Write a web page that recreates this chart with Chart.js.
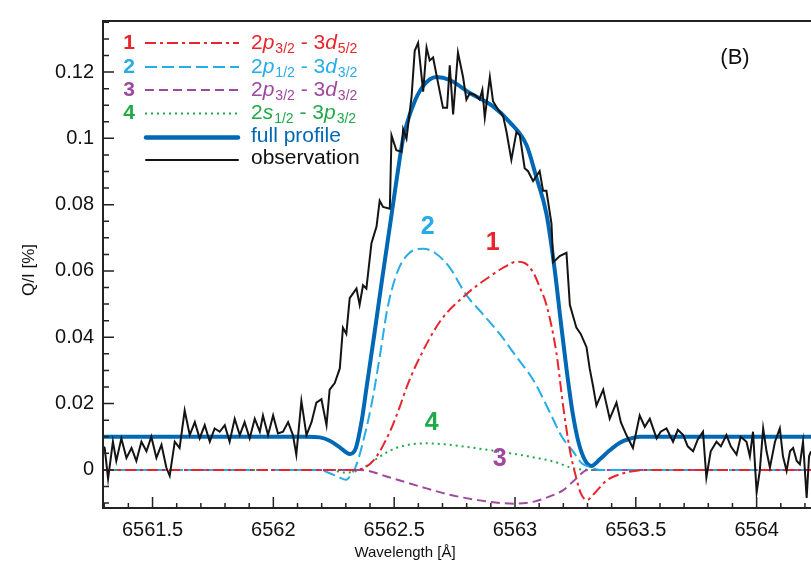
<!DOCTYPE html>
<html>
<head>
<meta charset="utf-8">
<script src="https://cdn.jsdelivr.net/npm/chart.js@4.4.0/dist/chart.umd.min.js"></script>
<style>
  html, body { margin: 0; padding: 0; background: #fff; }
</style>
</head>
<body>
<canvas id="mycanvas" width="811" height="569"></canvas>
<script>
// axis ranges (wavelength in Angstrom, Q/I in %)
var xMin = 6561.295, xMax = 6564.225;
var yMin = -0.0115, yMax = 0.1354;
var xTickLabels = [6561.5, 6562, 6562.5, 6563, 6563.5, 6564];
var yTickLabels = [0, 0.02, 0.04, 0.06, 0.08, 0.1, 0.12];

// observation
var obsX = [6561.295, 6561.302, 6561.316, 6561.336, 6561.350, 6561.371, 6561.392, 6561.413, 6561.433, 6561.454,
            6561.475, 6561.495, 6561.516, 6561.537, 6561.557, 6561.571, 6561.592, 6561.612, 6561.633, 6561.654,
            6561.675, 6561.695, 6561.716, 6561.737, 6561.757, 6561.778, 6561.799, 6561.819, 6561.840, 6561.861,
            6561.881, 6561.902, 6561.923, 6561.944, 6561.957, 6561.978, 6561.999, 6562.019, 6562.040, 6562.061,
            6562.081, 6562.095, 6562.116, 6562.137, 6562.158, 6562.178, 6562.199, 6562.220, 6562.233, 6562.254,
            6562.275, 6562.288, 6562.302, 6562.316, 6562.344, 6562.357, 6562.371, 6562.385, 6562.406, 6562.427,
            6562.440, 6562.454, 6562.482, 6562.489, 6562.509, 6562.530, 6562.537, 6562.551, 6562.572, 6562.585,
            6562.599, 6562.620, 6562.634, 6562.647, 6562.661, 6562.682, 6562.702, 6562.719, 6562.730, 6562.744,
            6562.764, 6562.785, 6562.799, 6562.813, 6562.834, 6562.854, 6562.865, 6562.875, 6562.896, 6562.909,
            6562.930, 6562.951, 6562.965, 6562.985, 6563.006, 6563.020, 6563.040, 6563.054, 6563.075, 6563.102,
            6563.116, 6563.130, 6563.151, 6563.158, 6563.185, 6563.213, 6563.227, 6563.254, 6563.272, 6563.296,
            6563.309, 6563.323, 6563.337, 6563.351, 6563.365, 6563.392, 6563.420, 6563.438, 6563.461, 6563.488,
            6563.516, 6563.537, 6563.558, 6563.586, 6563.603, 6563.627, 6563.654, 6563.674, 6563.696, 6563.715,
            6563.737, 6563.756, 6563.778, 6563.792, 6563.810, 6563.834, 6563.852, 6563.875, 6563.893, 6563.917,
            6563.934, 6563.958, 6563.972, 6563.985, 6564.000, 6564.013, 6564.027, 6564.041, 6564.055, 6564.076,
            6564.096, 6564.109, 6564.124, 6564.138, 6564.151, 6564.166, 6564.179, 6564.192, 6564.207, 6564.217,
            6564.225];
var obsY = [0.0071, 0.0066, -0.0027, 0.0085, 0.0027, 0.0095, 0.0036, 0.0066, 0.0027, 0.0085,
            0.0056, 0.0100, 0.0036, 0.0076, 0.0007, -0.0018, 0.0085, 0.0066, 0.0179, 0.0105,
            0.0144, 0.0095, 0.0135, 0.0085, 0.0125, 0.0115, 0.0135, 0.0085, 0.0154, 0.0105,
            0.0144, 0.0095, 0.0154, 0.0115, 0.0164, 0.0105, 0.0164, 0.0110, 0.0115, 0.0144,
            0.0105, 0.0046, 0.0208, 0.0105, 0.0144, 0.0203, 0.0213, 0.0135, 0.0242, 0.0262,
            0.0306, 0.0429, 0.0410, 0.0518, 0.0547, 0.0498, 0.0557, 0.0547, 0.0684, 0.0734,
            0.0812, 0.0793, 0.0788, 0.1009, 0.0964, 0.0960, 0.1028, 0.0999, 0.1126, 0.1264,
            0.1288, 0.1141, 0.1274, 0.1235, 0.1244, 0.1166, 0.1092, 0.1092, 0.1220, 0.1072,
            0.1259, 0.1185, 0.1117, 0.1136, 0.1131, 0.1117, 0.1146, 0.1063, 0.1185, 0.1112,
            0.1087, 0.1067, 0.1019, 0.0935, 0.1019, 0.1009, 0.0910, 0.0901, 0.0871, 0.0901,
            0.0842, 0.0842, 0.0743, 0.0626, 0.0645, 0.0655, 0.0498, 0.0429, 0.0410, 0.0370,
            0.0306, 0.0253, 0.0194, 0.0218, 0.0242, 0.0154, 0.0203, 0.0144, 0.0105, 0.0066,
            0.0164, 0.0130, 0.0154, 0.0095, 0.0115, 0.0125, 0.0085, 0.0121, 0.0105, 0.0071,
            0.0056, 0.0091, 0.0115, -0.0023, 0.0056, 0.0085, 0.0071, 0.0105, 0.0071, 0.0046,
            0.0100, 0.0085, 0.0041, 0.0115, -0.0068, -0.0003, 0.0125, 0.0056, 0.0007, 0.0085,
            0.0125, 0.0041, -0.0003, 0.0056, 0.0066, 0.0027, 0.0017, 0.0085, -0.0085, 0.0041,
            0.0056];

// full profile
var fullX = [6561.295, 6562.137, 6562.192, 6562.233, 6562.275, 6562.316, 6562.341, 6562.366, 6562.386, 6562.420,
             6562.449, 6562.482, 6562.507, 6562.537, 6562.577, 6562.618, 6562.675, 6562.730, 6562.813, 6562.908,
             6562.978, 6563.048, 6563.089, 6563.130, 6563.165, 6563.189, 6563.214, 6563.239, 6563.264, 6563.289,
             6563.316, 6563.351, 6563.392, 6563.434, 6563.475, 6563.516, 6564.225];
var fullY = [0.0100, 0.0100, 0.0098, 0.0088, 0.0068, 0.0048, 0.0065, 0.0150, 0.0250, 0.0420,
             0.0570, 0.0734, 0.0860, 0.0999, 0.1097, 0.1156, 0.1185, 0.1176, 0.1137, 0.1097,
             0.1049, 0.0979, 0.0881, 0.0773, 0.0600, 0.0450, 0.0300, 0.0170, 0.0080, 0.0030,
             0.0012, 0.0032, 0.0059, 0.0082, 0.0094, 0.0100, 0.0100];

// 1: 2p3/2 - 3d5/2
var c1X = [6561.295, 6562.337, 6562.413, 6562.482, 6562.523, 6562.552, 6562.593, 6562.691, 6562.799, 6562.895,
           6562.957, 6563.006, 6563.040, 6563.075, 6563.103, 6563.130, 6563.172, 6563.199, 6563.227, 6563.252,
           6563.272, 6563.297, 6563.330, 6563.379, 6563.461, 6563.544, 6564.225];
var c1Y = [0, 0, 0.0027, 0.0115, 0.0190, 0.0250, 0.0320, 0.0449, 0.0530, 0.0583,
           0.0612, 0.0628, 0.0624, 0.0596, 0.0550, 0.0498, 0.0350, 0.0194, 0.0060, -0.0020,
           -0.0070, -0.0091, -0.0070, -0.0032, -0.0008, 0, 0];

// 2: 2p1/2 - 3d3/2
var c2X = [6561.295, 6562.192, 6562.233, 6562.266, 6562.302, 6562.320, 6562.341, 6562.366, 6562.407, 6562.440,
           6562.473, 6562.515, 6562.564, 6562.620, 6562.668, 6562.730, 6562.799, 6562.867, 6562.937, 6563.007,
           6563.075, 6563.144, 6563.194, 6563.240, 6563.276, 6563.310, 6563.351, 6564.225];
var c2Y = [0, 0, -0.0010, -0.0020, -0.0030, -0.0015, 0.0010, 0.0070, 0.0200, 0.0340,
           0.0490, 0.0600, 0.0655, 0.0667, 0.0655, 0.0610, 0.0527, 0.0470, 0.0410, 0.0340,
           0.0272, 0.0174, 0.0100, 0.0056, 0.0020, 0.0009, 0, 0];

// 3: 2p3/2 - 3d3/2
var c3X = [6561.295, 6562.358, 6562.482, 6562.606, 6562.730, 6562.854, 6563.000, 6563.083, 6563.144, 6563.198,
           6563.248, 6563.301, 6564.225];
var c3Y = [0, 0, -0.0023, -0.0050, -0.0075, -0.0092, -0.0102, -0.0095, -0.0080, -0.0062,
           -0.0030, 0, 0];

// 4: 2s1/2 - 3p3/2
var c4X = [6561.295, 6562.233, 6562.295, 6562.358, 6562.420, 6562.482, 6562.546, 6562.634, 6562.709, 6562.813,
           6562.937, 6563.061, 6563.165, 6563.239, 6563.310, 6564.225];
var c4Y = [0, 0, -0.0008, 0, 0.0030, 0.0058, 0.0074, 0.0080, 0.0077, 0.0068,
           0.0055, 0.0040, 0.0024, 0.0005, 0, 0];

// legend text pieces: [text, style]  n = normal, i = italic, s = subscript
var seriesNames = [
    [['2', 'n'], ['p', 'i'], ['3/2', 's'], [' - 3', 'n'], ['d', 'i'], ['5/2', 's']],
    [['2', 'n'], ['p', 'i'], ['1/2', 's'], [' - 3', 'n'], ['d', 'i'], ['3/2', 's']],
    [['2', 'n'], ['p', 'i'], ['3/2', 's'], [' - 3', 'n'], ['d', 'i'], ['3/2', 's']],
    [['2', 'n'], ['s', 'i'], ['1/2', 's'], [' - 3', 'n'], ['p', 'i'], ['3/2', 's']]
];
var seriesNums = ['1', '2', '3', '4'];
// curve labels placed in data space
var curveLabelX = [6562.908, 6562.639, 6562.937, 6562.655];
var curveLabelY = [0.0684, 0.0731, 0.0032, 0.0141];

var red = 'rgb(232,36,44)', cyan = 'rgb(38,172,230)', purple = 'rgb(158,72,160)',
    green = 'rgb(32,170,72)', blue = 'rgb(0,104,180)', black = '#141414';
var colors = [red, cyan, purple, green];
var dashes = [[11, 4, 3, 4], [12, 5], [9, 5], [2, 4]];
var FONT = "'Liberation Sans', Arial, sans-serif";

function pts(xs, ys) {
    var out = [];
    for (var i = 0; i < xs.length; i++) out.push({x: xs[i], y: ys[i]});
    return out;
}

var compX = [c1X, c2X, c3X, c4X], compY = [c1Y, c2Y, c3Y, c4Y];
var datasets = [];
datasets.push({label: 'observation', data: pts(obsX, obsY), borderColor: black, borderWidth: 2,
    pointRadius: 0, tension: 0, order: 1});
for (var k = 0; k < 4; k++) {
    datasets.push({label: seriesNums[k], data: pts(compX[k], compY[k]), borderColor: colors[k],
        borderWidth: 2, borderDash: dashes[k], pointRadius: 0, cubicInterpolationMode: 'monotone', order: 5});
}
datasets.push({label: 'full profile', data: pts(fullX, fullY), borderColor: blue, borderWidth: 4,
    pointRadius: 0, cubicInterpolationMode: 'monotone', order: 10});

function drawLabel(ctx, x, y, parts) {
    for (var i = 0; i < parts.length; i++) {
        var t = parts[i][0], s = parts[i][1];
        if (s == 's') {
            ctx.font = '14px ' + FONT;
            ctx.fillText(t, x, y + 6);
        } else {
            ctx.font = (s == 'i' ? 'italic ' : '') + '21px ' + FONT;
            ctx.fillText(t, x, y);
        }
        x += ctx.measureText(t).width + (s == 'i' ? 1 : 0);
    }
}

var framePlugin = {
    id: 'frame',
    afterDraw: function (chart) {
        var ctx = chart.ctx, a = chart.chartArea;
        var xs = chart.scales.x, ys = chart.scales.y;
        ctx.save();
        ctx.strokeStyle = '#222';
        ctx.lineWidth = 2;
        ctx.beginPath();
        ctx.moveTo(a.right + 2, a.top); ctx.lineTo(a.left, a.top);
        ctx.lineTo(a.left, a.bottom); ctx.lineTo(a.right + 2, a.bottom);
        ctx.stroke();
        ctx.lineWidth = 1.5;
        ctx.beginPath();
        // x ticks, minor every 0.1
        for (var k = 65613; k <= 65642; k++) {
            var px = xs.getPixelForValue(k / 10);
            var len = (k % 5 == 0) ? 11 : 5;
            ctx.moveTo(px, a.bottom); ctx.lineTo(px, a.bottom - len);
        }
        // y ticks, minor every 0.005
        for (var j = -2; j <= 27; j++) {
            var py = ys.getPixelForValue(j * 0.005);
            var l = (j % 4 == 0 && j >= 0) ? 11 : 6;
            ctx.moveTo(a.left, py); ctx.lineTo(a.left + l, py);
        }
        ctx.stroke();

        // axis titles
        ctx.fillStyle = '#111';
        ctx.textAlign = 'center';
        ctx.textBaseline = 'middle';
        ctx.font = '15px ' + FONT;
        ctx.fillText('Wavelength [\u00C5]', 405, 553);
        ctx.save();
        ctx.translate(29, 270);
        ctx.rotate(-Math.PI / 2);
        ctx.font = '17px ' + FONT;
        ctx.fillText('Q/I [%]', 0, 0);
        ctx.restore();

        // panel tag
        ctx.font = '22px ' + FONT;
        ctx.fillText('(B)', 735, 58);

        // numbers on the curves
        ctx.font = 'bold 25px ' + FONT;
        for (var c = 0; c < 4; c++) {
            ctx.fillStyle = colors[c];
            ctx.fillText(seriesNums[c], xs.getPixelForValue(curveLabelX[c]), ys.getPixelForValue(curveLabelY[c]));
        }

        // legend
        var rows = [43, 67, 90, 113.5];
        ctx.textBaseline = 'middle';
        for (var r = 0; r < 4; r++) {
            ctx.fillStyle = colors[r];
            ctx.textAlign = 'center';
            ctx.font = 'bold 21px ' + FONT;
            ctx.fillText(seriesNums[r], 129, rows[r]);
            ctx.strokeStyle = colors[r];
            ctx.lineWidth = 2;
            ctx.setLineDash(dashes[r]);
            ctx.beginPath(); ctx.moveTo(145, rows[r]); ctx.lineTo(239, rows[r]); ctx.stroke();
            ctx.setLineDash([]);
            ctx.textAlign = 'left';
            drawLabel(ctx, 251, rows[r], seriesNames[r]);
        }
        ctx.lineWidth = 4.5;
        ctx.strokeStyle = blue;
        ctx.lineCap = 'round';
        ctx.beginPath(); ctx.moveTo(146, 137.5); ctx.lineTo(238, 137.5); ctx.stroke();
        ctx.lineWidth = 2;
        ctx.strokeStyle = black;
        ctx.beginPath(); ctx.moveTo(146, 160); ctx.lineTo(238, 160); ctx.stroke();
        ctx.font = '21px ' + FONT;
        ctx.fillStyle = blue;
        ctx.fillText('full profile', 251, 136);
        ctx.fillStyle = '#111';
        ctx.fillText('observation', 251, 158);
        ctx.restore();
    }
};

var ctx = document.getElementById('mycanvas');
var chart = new Chart(ctx, {
    type: 'line',
    data: { datasets: datasets },
    options: {
        responsive: false,
        animation: false,
        layout: { padding: { top: 9, right: 0, left: 0, bottom: 0 } },
        plugins: { legend: { display: false }, tooltip: { enabled: false } },
        scales: {
            x: {
                type: 'linear', min: xMin, max: xMax,
                grid: { display: false, drawTicks: false },
                border: { display: false },
                afterBuildTicks: function (s) { s.ticks = xTickLabels.map(function (v) { return {value: v}; }); },
                afterFit: function (s) { s.height = 61; },
                ticks: { autoSkip: false, maxRotation: 0, padding: 10, color: '#111',
                         font: { family: FONT, size: 20 },
                         callback: function (v) { return String(v); } }
            },
            y: {
                type: 'linear', min: yMin, max: yMax,
                grid: { display: false, drawTicks: false },
                border: { display: false },
                afterBuildTicks: function (s) { s.ticks = yTickLabels.map(function (v) { return {value: v}; }); },
                afterFit: function (s) { s.width = 103; },
                ticks: { autoSkip: false, padding: 9, color: '#111',
                         font: { family: FONT, size: 20 },
                         callback: function (v) { return String(v); } }
            }
        }
    },
    plugins: [framePlugin]
});
</script>
</body>
</html>
